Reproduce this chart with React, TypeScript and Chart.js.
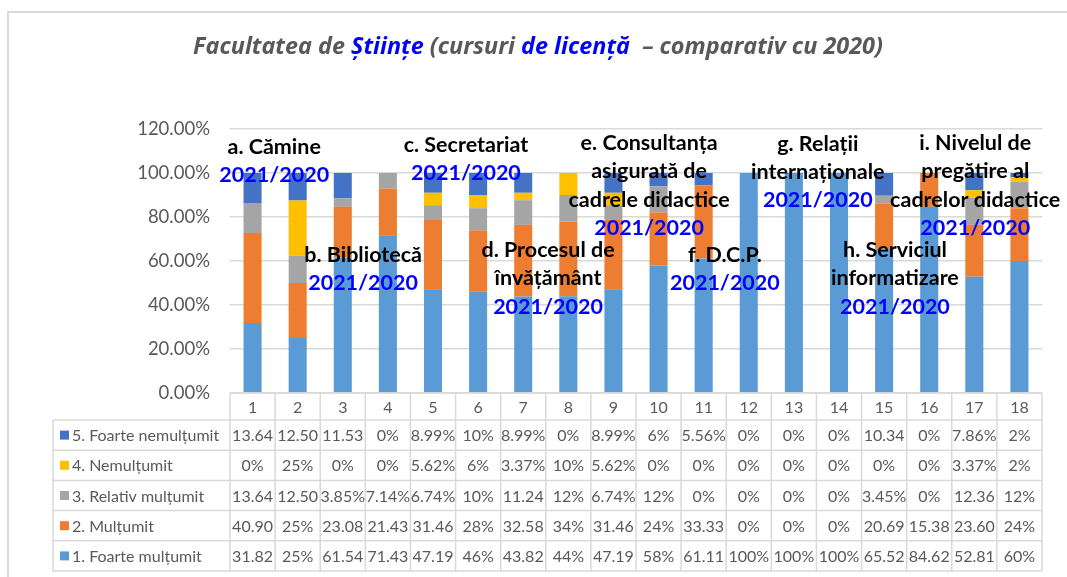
import React, { useEffect, useRef } from "react";
import { Chart, registerables } from "chart.js";
Chart.register(...registerables);

const categories = ["1", "2", "3", "4", "5", "6", "7", "8", "9", "10", "11", "12", "13", "14", "15", "16", "17", "18"];

const foarteMultumit = [31.82, 25, 61.54, 71.43, 47.19, 46, 43.82, 44, 47.19, 58, 61.11, 100, 100, 100, 65.52, 84.62, 52.81, 60];
const multumit = [40.9, 25, 23.08, 21.43, 31.46, 28, 32.58, 34, 31.46, 24, 33.33, 0, 0, 0, 20.69, 15.38, 23.6, 24];
const relativMultumit = [13.64, 12.5, 3.85, 7.14, 6.74, 10, 11.24, 12, 6.74, 12, 0, 0, 0, 0, 3.45, 0, 12.36, 12];
const nemultumit = [0, 25, 0, 0, 5.62, 6, 3.37, 10, 5.62, 0, 0, 0, 0, 0, 0, 0, 3.37, 2];
const foarteNemultumit = [13.64, 12.5, 11.53, 0, 8.99, 10, 8.99, 0, 8.99, 6, 5.56, 0, 0, 0, 10.34, 0, 7.86, 2];

const seriesNames = ["1. Foarte mulțumit", "2. Mulțumit", "3. Relativ mulțumit", "4. Nemulțumit", "5. Foarte nemulțumit"];
const seriesColors = ["#5B9BD5", "#ED7D31", "#A5A5A5", "#FFC000", "#4472C4"];

// table labels as displayed (top row first)
const labels5 = ["13.64", "12.50", "11.53", "0%", "8.99%", "10%", "8.99%", "0%", "8.99%", "6%", "5.56%", "0%", "0%", "0%", "10.34", "0%", "7.86%", "2%"];
const labels4 = ["0%", "25%", "0%", "0%", "5.62%", "6%", "3.37%", "10%", "5.62%", "0%", "0%", "0%", "0%", "0%", "0%", "0%", "3.37%", "2%"];
const labels3 = ["13.64", "12.50", "3.85%", "7.14%", "6.74%", "10%", "11.24", "12%", "6.74%", "12%", "0%", "0%", "0%", "0%", "3.45%", "0%", "12.36", "12%"];
const labels2 = ["40.90", "25%", "23.08", "21.43", "31.46", "28%", "32.58", "34%", "31.46", "24%", "33.33", "0%", "0%", "0%", "20.69", "15.38", "23.60", "24%"];
const labels1 = ["31.82", "25%", "61.54", "71.43", "47.19", "46%", "43.82", "44%", "47.19", "58%", "61.11", "100%", "100%", "100%", "65.52", "84.62", "52.81", "60%"];

const yTicks = [0, 20, 40, 60, 80, 100, 120];

// annotations: lines of black text then blue year line; anchored at (category index, value)
const annotationTexts = [
  ["a. Cămine"],
  ["b. Bibliotecă"],
  ["c. Secretariat"],
  ["d. Procesul de", "învățământ"],
  ["e. Consultanța", "asigurată de", "cadrele didactice"],
  ["f. D.C.P."],
  ["g. Relații", "internaționale"],
  ["h. Serviciul", "informatizare"],
  ["i. Nivelul de", "pregătire al", "cadrelor didactice"],
];
const annotationX = [0.48, 2.45, 4.73, 6.55, 8.79, 10.47, 12.53, 14.24, 16.02];
const annotationY = [111.8, 62.7, 112.7, 65, 113.6, 62.7, 113.2, 65, 113.6];
const yearLabel = "2021/2020";

const GRAY = "#595959";
const BLUE = "#0000FF";
const LINE = "#D9D9D9";
const FONT = "Lato, 'Open Sans', sans-serif";
const TITLE_FONT = "'Open Sans', Lato, sans-serif";

const titleParts = [
  { t: "Facultatea de ", c: GRAY },
  { t: "Științe", c: BLUE },
  { t: " (cursuri ", c: GRAY },
  { t: "de licență", c: BLUE },
  { t: "  – comparativ cu 2020)", c: GRAY },
];

const overlayPlugin = {
  id: "overlay",
  afterDraw(chart: any) {
    const ctx = chart.ctx as CanvasRenderingContext2D;
    const xs = chart.scales.x;
    const ys = chart.scales.y;
    const area = chart.chartArea;
    ctx.save();

    // frame
    ctx.strokeStyle = LINE;
    ctx.lineWidth = 2;
    ctx.beginPath();
    ctx.moveTo(8, 580);
    ctx.lineTo(8, 12);
    ctx.lineTo(1070, 12);
    ctx.stroke();

    // title (fit to the reference width)
    const measureTitle = (size: number) => {
      ctx.font = `italic bold ${size}px ${TITLE_FONT}`;
      let w = 0;
      titleParts.forEach((p) => (w += ctx.measureText(p.t).width));
      return w;
    };
    const base = measureTitle(20);
    const tsize = Math.max(14, Math.min(26, (20 * 690) / base));
    const total = measureTitle(tsize);
    ctx.textBaseline = "middle";
    ctx.textAlign = "left";
    let tx = 538 - total / 2;
    titleParts.forEach((p) => {
      ctx.fillStyle = p.c;
      ctx.fillText(p.t, tx, 47);
      tx += ctx.measureText(p.t).width;
    });

    // data table
    const n = categories.length;
    const colW = (area.right - area.left) / n;
    const headTop = area.bottom;
    const headBot = area.bottom + 27;
    const rowH = 30.2;
    const tableLeft = 53;
    const rows = [labels5, labels4, labels3, labels2, labels1];
    const rowSeries = [4, 3, 2, 1, 0];
    const tableBottom = headBot + rowH * rows.length;

    ctx.strokeStyle = LINE;
    ctx.lineWidth = 1.5;
    ctx.beginPath();
    for (let i = 0; i <= n; i++) {
      const x = area.left + i * colW;
      ctx.moveTo(x, headTop);
      ctx.lineTo(x, tableBottom);
    }
    ctx.moveTo(area.left, headTop);
    ctx.lineTo(area.right, headTop);
    for (let r = 0; r <= rows.length; r++) {
      const y = headBot + r * rowH;
      ctx.moveTo(tableLeft, y);
      ctx.lineTo(area.right, y);
    }
    ctx.moveTo(tableLeft, headBot);
    ctx.lineTo(tableLeft, tableBottom);
    ctx.stroke();

    ctx.font = `16px ${FONT}`;
    ctx.fillStyle = GRAY;
    ctx.textAlign = "center";
    ctx.textBaseline = "middle";
    for (let i = 0; i < n; i++) {
      const cx = xs.getPixelForValue(i);
      ctx.fillText(categories[i], cx, (headTop + headBot) / 2 + 1);
    }
    rows.forEach((row, r) => {
      const cy = headBot + r * rowH + rowH / 2 + 1;
      row.forEach((s, i) => {
        ctx.fillStyle = GRAY;
        ctx.fillText(s, xs.getPixelForValue(i), cy);
      });
      const si = rowSeries[r];
      ctx.fillStyle = seriesColors[si];
      ctx.fillRect(60, cy - 5.5, 9, 9);
      ctx.fillStyle = GRAY;
      ctx.textAlign = "left";
      ctx.fillText(seriesNames[si], 72, cy);
      ctx.textAlign = "center";
    });

    // annotations
    ctx.font = `bold 21.5px ${FONT}`;
    ctx.textAlign = "center";
    ctx.textBaseline = "middle";
    const lh = 28.3;
    annotationTexts.forEach((lines, k) => {
      const cx = xs.getPixelForValue(0) + annotationX[k] * colW;
      const y0 = ys.getPixelForValue(annotationY[k]);
      lines.forEach((l, j) => {
        ctx.fillStyle = "#000000";
        ctx.fillText(l, cx, y0 + j * lh);
      });
      ctx.fillStyle = BLUE;
      ctx.fillText(yearLabel, cx, y0 + lines.length * lh);
    });

    ctx.restore();
  },
};

export default function App() {
  const ref = useRef<HTMLCanvasElement | null>(null);
  useEffect(() => {
    if (!ref.current) return;
    const values = [foarteMultumit, multumit, relativMultumit, nemultumit, foarteNemultumit];
    const chart = new Chart(ref.current, {
      type: "bar",
      data: {
        labels: categories,
        datasets: values.map((v, i) => ({
          label: seriesNames[i],
          data: v,
          backgroundColor: seriesColors[i],
          borderWidth: 0,
          categoryPercentage: 0.8,
          barPercentage: 0.5,
        })),
      },
      options: {
        responsive: false,
        animation: false,
        layout: { padding: { left: 0, right: 25, top: 129, bottom: 184 } },
        plugins: { legend: { display: false }, tooltip: { enabled: false }, title: { display: false } },
        scales: {
          x: { stacked: true, display: false },
          y: {
            stacked: true,
            min: 0,
            max: 120,
            afterFit: (s: any) => {
              s.width = 230;
            },
            afterBuildTicks: (s: any) => {
              s.ticks = yTicks.map((v) => ({ value: v }));
            },
            border: { display: false },
            grid: { color: LINE, lineWidth: 1.5, drawTicks: false },
            ticks: {
              padding: 20,
              color: GRAY,
              font: { family: FONT, size: 18.5 },
              callback: (v: any) => Number(v).toFixed(2) + "%",
            },
          },
        },
      },
      plugins: [overlayPlugin],
    });
    return () => chart.destroy();
  }, []);
  return (
    <div style={{ position: "absolute", left: 0, top: 0, width: 1067, height: 577, background: "#fff" }}>
      <canvas ref={ref} width={1067} height={577} style={{ width: 1067, height: 577, display: "block" }} />
    </div>
  );
}
